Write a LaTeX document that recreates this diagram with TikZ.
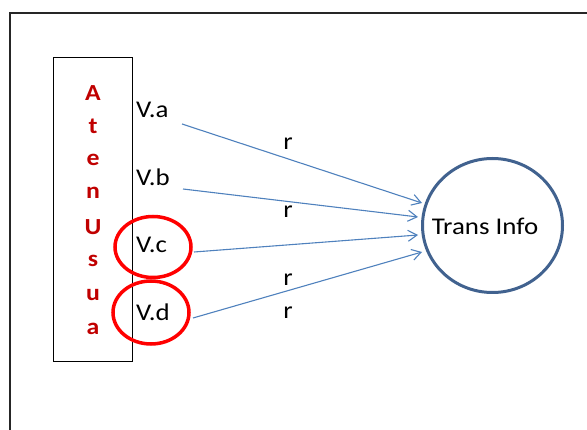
\documentclass[tikz,border=0pt]{standalone}
\usepackage{fontspec}
\setmainfont{Carlito}
\usetikzlibrary{arrows.meta}
\definecolor{arrowblue}{HTML}{4F81BD}
\definecolor{circblue}{HTML}{41628F}
\definecolor{letterred}{HTML}{C00000}
\newcommand{\wtxt}[1]{\scalebox{1.12}[1]{#1}}
\tikzset{
  lbl/.style={inner sep=0pt, font=\fontsize{24}{26}\selectfont, text=black},
  letter/.style={inner sep=0pt, font=\fontsize{23}{25}\selectfont\bfseries, text=letterred},
  conn/.style={draw=arrowblue, line width=1.1pt, -{Straight Barb[length=9pt,width=11pt,line width=1.1pt]}},
}
\begin{document}
\begin{tikzpicture}[x=1pt,y=-1pt]
\useasboundingbox (0,0) rectangle (587,430);
\clip (0,0) rectangle (587,430);
% outer frame
\draw[line width=1.6pt, draw=black!85] (10,13) rectangle (620,460);
% left box
\node[draw=black, line width=1pt, minimum width=79pt, minimum height=304pt, inner sep=0pt] (box) at (93,209.5) {};
\foreach \ch/\yy [count=\i] in {A/93,t/126,e/160,n/193,U/227,s/261,u/295,a/329}{
  \node[letter] (L\i) at (93,\yy) {\wtxt{\ch}};
}
% labels
\node[lbl, anchor=west] (va) at (136,110) {\wtxt{V.a}};
\node[lbl, anchor=west] (vb) at (136,177.5) {\wtxt{V.b}};
\node[lbl, anchor=west] (vc) at (136,245) {\wtxt{V.c}};
\node[lbl, anchor=west] (vd) at (136,312.5) {\wtxt{V.d}};
% red rings
\draw[draw=red, line width=3.5pt] (153,247) ellipse [x radius=38, y radius=30.5];
\draw[draw=red, line width=3.5pt] (151,312.5) ellipse [x radius=38, y radius=31.5];
% target
\draw[draw=circblue, line width=3pt] (492.5,225.5) ellipse [x radius=70, y radius=67];
\node[lbl] (ti) at (485,226) {\wtxt{Trans Info}};
% connector ends
\coordinate (sa) at (182,124);
\coordinate (sb) at (183,189);
\coordinate (sc) at (194,252);
\coordinate (sd) at (193,318);
\coordinate (ea) at (422,203);
\coordinate (eb) at (418,217);
\coordinate (ec) at (418,235);
\coordinate (ed) at (422,252);
\draw[conn] (sa) -- (ea);
\draw[conn] (sb) -- (eb);
\draw[conn] (sc) -- (ec);
\draw[conn] (sd) -- (ed);
% r labels
\node[lbl] (r1) at (288,144) {\wtxt{r}};
\node[lbl] (r2) at (288,212) {\wtxt{r}};
\node[lbl] (r3) at (288,280) {\wtxt{r}};
\node[lbl] (r4) at (288,313) {\wtxt{r}};
\end{tikzpicture}
\end{document}
